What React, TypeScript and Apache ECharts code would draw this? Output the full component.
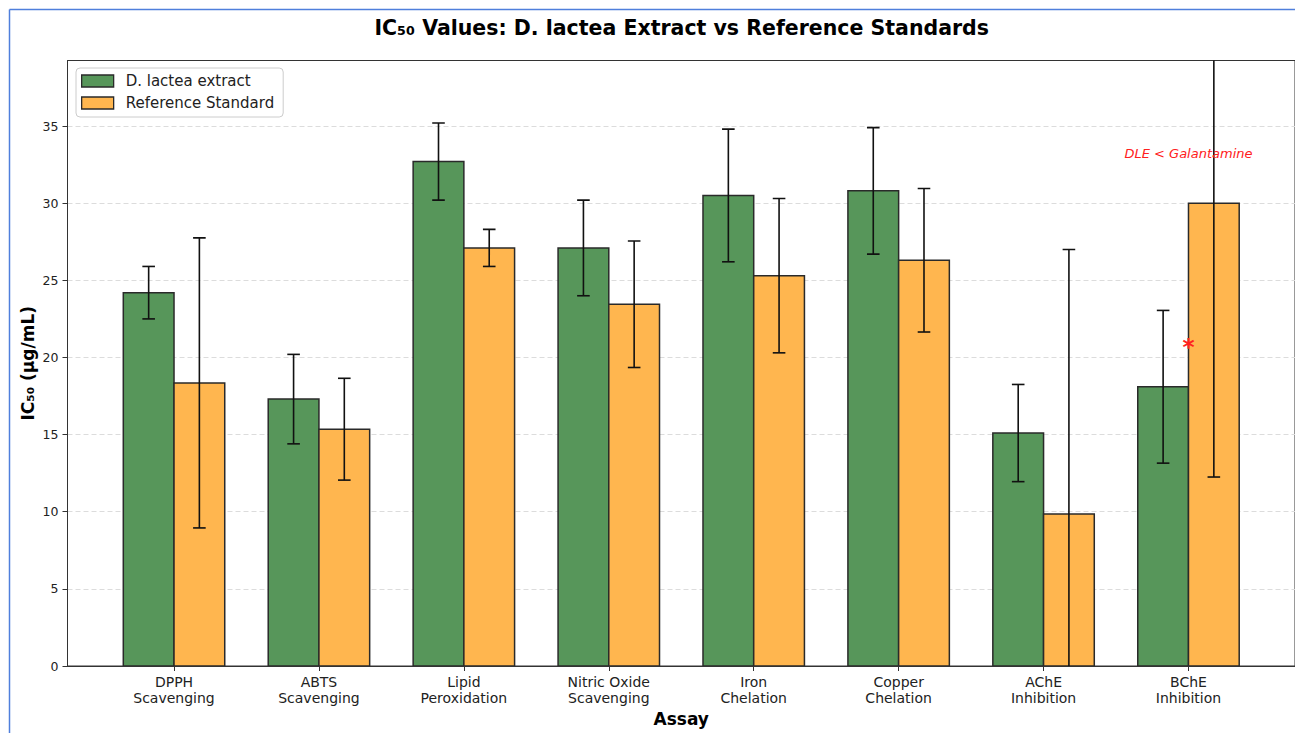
import React, { useEffect, useRef } from "react";
import * as echarts from "echarts";

// Assays (x categories) and IC50 values with their standard deviations
const assays = [
  "DPPH\nScavenging",
  "ABTS\nScavenging",
  "Lipid\nPeroxidation",
  "Nitric Oxide\nScavenging",
  "Iron\nChelation",
  "Copper\nChelation",
  "AChE\nInhibition",
  "BChE\nInhibition",
];
const extractIC50 = [24.2, 17.3, 32.7, 27.1, 30.5, 30.8, 15.1, 18.1];
const extractSD = [1.7, 2.9, 2.5, 3.1, 4.3, 4.1, 3.15, 4.95];
const referenceIC50 = [18.35, 15.35, 27.1, 23.45, 25.3, 26.3, 9.85, 30.0];
const referenceSD = [9.4, 3.3, 1.2, 4.1, 5.0, 4.65, 17.15, 17.75];
const seriesNames = ["D. lactea extract", "Reference Standard"];
const yTicks = [0, 5, 10, 15, 20, 25, 30, 35];

// Annotation over the BChE group: [assay index, y value, label]
const noteX = [7, 7];
const noteY = [20.9, 33.25];
const noteText = ["*", "DLE < Galantamine"];

const FONT = "DejaVu Sans";
const GREEN = "#57965a";
const ORANGE = "#ffb64f";
const BAR_W = 0.35;

function barSeries(name: string, values: number[], errs: number[], offset: number, color: string) {
  return {
    type: "custom",
    name,
    clip: true,
    itemStyle: { color },
    data: values.map((v, i) => [i, v, errs[i]]),
    encode: { x: 0, y: 1 },
    renderItem: (_params: any, api: any) => {
      const i = api.value(0);
      const v = api.value(1);
      const e = api.value(2);
      const c = i + offset;
      const tl = api.coord([c - BAR_W / 2, v]);
      const br = api.coord([c + BAR_W / 2, 0]);
      const top = api.coord([c, v + e]);
      const bot = api.coord([c, v - e]);
      const cap = 6.3;
      const errStyle = { stroke: "#111", lineWidth: 1.6 };
      return {
        type: "group",
        children: [
          {
            type: "rect",
            shape: { x: tl[0], y: tl[1], width: br[0] - tl[0], height: br[1] - tl[1] },
            style: { fill: color, stroke: "#2a2a2a", lineWidth: 1.5 },
          },
          { type: "line", shape: { x1: top[0], y1: top[1], x2: bot[0], y2: bot[1] }, style: errStyle },
          { type: "line", shape: { x1: top[0] - cap, y1: top[1], x2: top[0] + cap, y2: top[1] }, style: errStyle },
          { type: "line", shape: { x1: bot[0] - cap, y1: bot[1], x2: bot[0] + cap, y2: bot[1] }, style: errStyle },
        ],
      };
    },
  };
}

export default function App() {
  const ref = useRef<HTMLDivElement>(null);

  useEffect(() => {
    if (!ref.current) return;
    const chart = echarts.init(ref.current, undefined, { renderer: "svg" });

    const option: any = {
      animation: false,
      backgroundColor: "#ffffff",
      textStyle: { fontFamily: FONT },
      grid: {
        left: 67.5,
        top: 60.5,
        bottom: 67,
        right: -1,
        show: true,
        borderColor: "#333",
        borderWidth: 1,
        backgroundColor: "transparent",
      },
      legend: {
        orient: "vertical",
        left: 76,
        top: 68,
        padding: [4, 9, 5, 5],
        itemGap: 4,
        itemWidth: 32,
        itemHeight: 12,
        backgroundColor: "rgba(255,255,255,0.85)",
        borderColor: "#cccccc",
        borderWidth: 1,
        borderRadius: 4,
        textStyle: { fontFamily: FONT, fontSize: 15, color: "#222", lineHeight: 18, padding: [0, 0, 0, 7] },
        data: [
          { name: seriesNames[0], icon: "rect", itemStyle: { color: GREEN, borderColor: "#2a2a2a", borderWidth: 1.3 } },
          { name: seriesNames[1], icon: "rect", itemStyle: { color: ORANGE, borderColor: "#2a2a2a", borderWidth: 1.3 } },
        ],
      },
      xAxis: {
        type: "value",
        min: -0.735,
        max: 7.735,
        name: "Assay",
        nameLocation: "middle",
        nameGap: 42,
        nameTextStyle: { fontFamily: FONT, fontSize: 17, fontWeight: "bold", color: "#000" },
        axisLine: { show: true, onZero: false, lineStyle: { color: "#333", width: 1 } },
        axisTick: {
          show: true,
          length: 5,
          lineStyle: { color: "#333" },
          customValues: assays.map((_, i) => i),
        },
        axisLabel: {
          customValues: assays.map((_, i) => i),
          formatter: (v: number) => assays[Math.round(v)] ?? "",
          fontFamily: FONT,
          fontSize: 14,
          lineHeight: 16,
          color: "#222",
          margin: 8,
        },
        splitLine: { show: false },
      },
      yAxis: {
        type: "value",
        min: 0,
        max: 39.25,
        interval: 5,
        name: "IC\u2085\u2080 (\u03bcg/mL)",
        nameLocation: "middle",
        nameGap: 31,
        nameMoveOverlap: false,
        nameTextStyle: { fontFamily: FONT, fontSize: 17, fontWeight: "bold", color: "#000" },
        axisLine: { show: true, onZero: false, lineStyle: { color: "#333", width: 1 } },
        axisTick: { show: true, length: 5, lineStyle: { color: "#333" }, customValues: yTicks },
        axisLabel: {
          customValues: yTicks,
          fontFamily: FONT,
          fontSize: 12.5,
          color: "#222",
          margin: 9,
        },
        splitLine: { show: true, lineStyle: { color: "#dcdcdc", type: [5, 3], width: 1 } },
      },
      series: [
        barSeries(seriesNames[0], extractIC50, extractSD, -BAR_W / 2, GREEN),
        barSeries(seriesNames[1], referenceIC50, referenceSD, BAR_W / 2, ORANGE),
        {
          type: "custom",
          name: "notes",
          clip: false,
          z: 10,
          data: noteX.map((x, i) => [x, noteY[i], i]),
          encode: { x: 0, y: 1 },
          renderItem: (_params: any, api: any) => {
            const k = api.value(2);
            const p = api.coord([api.value(0), api.value(1)]);
            const isStar = noteText[k] === "*";
            return {
              type: "text",
              x: p[0],
              y: p[1] + (isStar ? 3 : 0),
              style: {
                text: noteText[k],
                fill: "#ff2020",
                fontFamily: FONT,
                fontSize: isStar ? 23 : 13,
                fontWeight: isStar ? "bold" : "normal",
                fontStyle: isStar ? "normal" : "italic",
                align: "center",
                verticalAlign: "middle",
              },
            };
          },
        },
      ],
      graphic: [
        {
          type: "line",
          shape: { x1: 9.5, y1: 9.5, x2: 1295, y2: 9.5 },
          style: { stroke: "#4f7fdc", lineWidth: 1.5 },
        },
        {
          type: "line",
          shape: { x1: 9.5, y1: 9.5, x2: 9.5, y2: 733 },
          style: { stroke: "#4f7fdc", lineWidth: 1.5 },
        },
        {
          type: "text",
          x: 681.7,
          y: 28,
          style: {
            text: "IC\u2085\u2080 Values: D. lactea Extract vs Reference Standards",
            fontFamily: FONT,
            fontSize: 20.5,
            fontWeight: "bold",
            fill: "#000",
            align: "center",
            verticalAlign: "middle",
          },
        },
      ],
    };

    chart.setOption(option);
    return () => chart.dispose();
  }, []);

  return (
    <div
      ref={ref}
      style={{ position: "absolute", left: 0, top: 0, width: 1295, height: 733 }}
    />
  );
}
